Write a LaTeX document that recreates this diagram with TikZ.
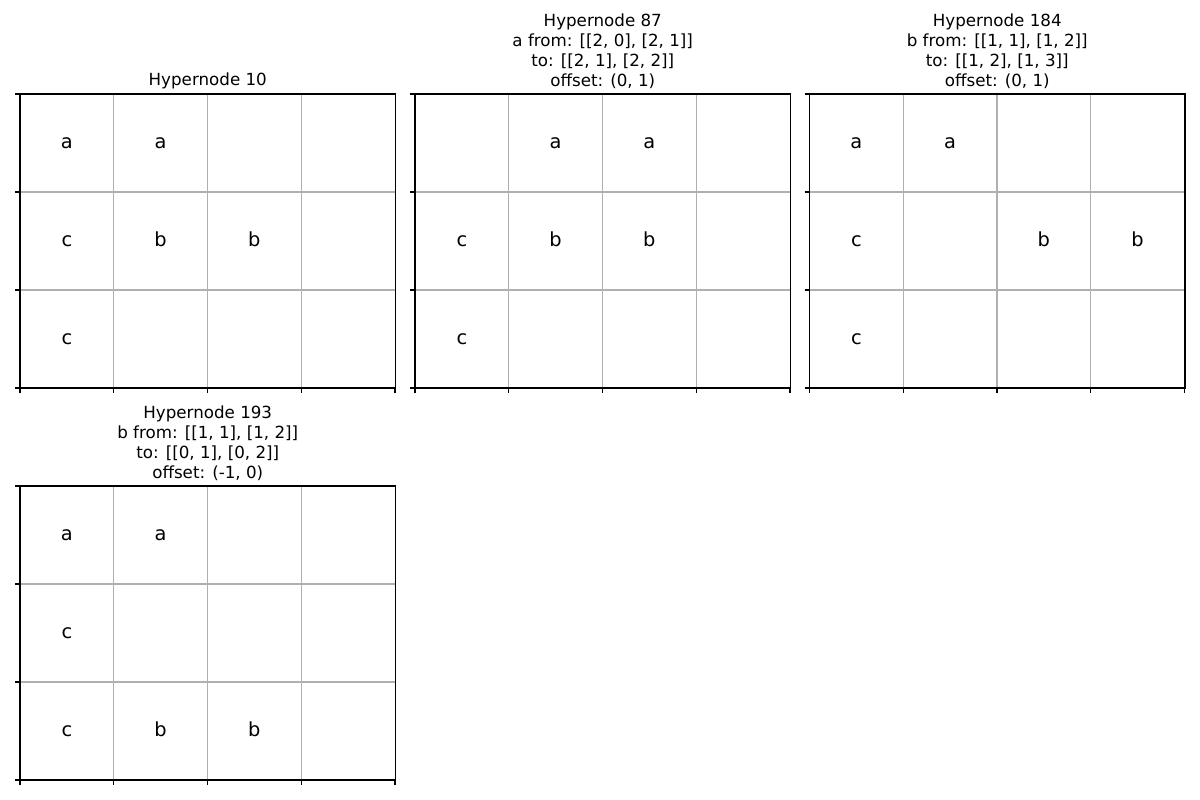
\documentclass[tikz,border=0pt]{standalone}
\usepackage{fontspec}
\setmainfont{DejaVu Sans}

\definecolor{gridgray}{HTML}{B0B0B0}

\tikzset{
  frame/.style={black, line width=1.1pt},
  gridline/.style={gridgray, line width=1.1pt},
  tickmark/.style={black, line width=1.1pt},
  cell/.style={font=\fontsize{19.4}{23}\selectfont, inner sep=0pt, anchor=base},
  paneltitle/.style={font=\fontsize{16.7}{20}\selectfont, align=center, anchor=south, inner sep=0pt},
}

% one board: name, left, top, cells (row/col/letter), title
\newcommand{\hypergrid}[5]{%
  \begin{scope}[shift={(#2,#3)}]
    % grid
    \foreach \k in {1,2,3} \draw[gridline] (\k*93.75,0) -- (\k*93.75,294);
    \foreach \k in {1,2} \draw[gridline] (0,\k*98) -- (375.5,\k*98);
    % ticks
    \foreach \k in {0,1,2,3} \draw[tickmark] (-4.9,\k*98) -- (0,\k*98);
    \foreach \k in {0,1,2,3,4} \draw[tickmark] (\k*93.75,294) -- (\k*93.75,298.9);
    % frame
    \draw[frame] (0,0) rectangle (375.5,294);
    % cells
    \foreach \r/\c/\s in {#4}
      \node[cell] (#1-\r-\c) at ({(\c+0.5)*93.75},{(\r+0.5)*98+5}) {\s};
    % title
    \node[paneltitle] (#1-title) at (187.75,-5) {#5};
  \end{scope}}

\begin{document}
\begin{tikzpicture}[x=1pt, y=-1pt]
  \useasboundingbox (0,0) rectangle (1200,800);

  % Hypernode 10
  \hypergrid{hn10}{20}{94}
    {0/0/a, 0/1/a, 1/0/c, 1/1/b, 1/2/b, 2/0/c}
    {Hypernode 10}

  % Hypernode 87
  \hypergrid{hn87}{415}{94}
    {0/1/a, 0/2/a, 1/0/c, 1/1/b, 1/2/b, 2/0/c}
    {Hypernode 87\\a from: [[2, 0], [2, 1]]\\to: [[2, 1], [2, 2]]\\offset: (0, 1)}

  % Hypernode 184
  \hypergrid{hn184}{809.5}{94}
    {0/0/a, 0/1/a, 1/0/c, 1/2/b, 1/3/b, 2/0/c}
    {Hypernode 184\\b from: [[1, 1], [1, 2]]\\to: [[1, 2], [1, 3]]\\offset: (0, 1)}

  % Hypernode 193
  \hypergrid{hn193}{20}{486}
    {0/0/a, 0/1/a, 1/0/c, 2/0/c, 2/1/b, 2/2/b}
    {Hypernode 193\\b from: [[1, 1], [1, 2]]\\to: [[0, 1], [0, 2]]\\offset: (-1, 0)}
\end{tikzpicture}
\end{document}
